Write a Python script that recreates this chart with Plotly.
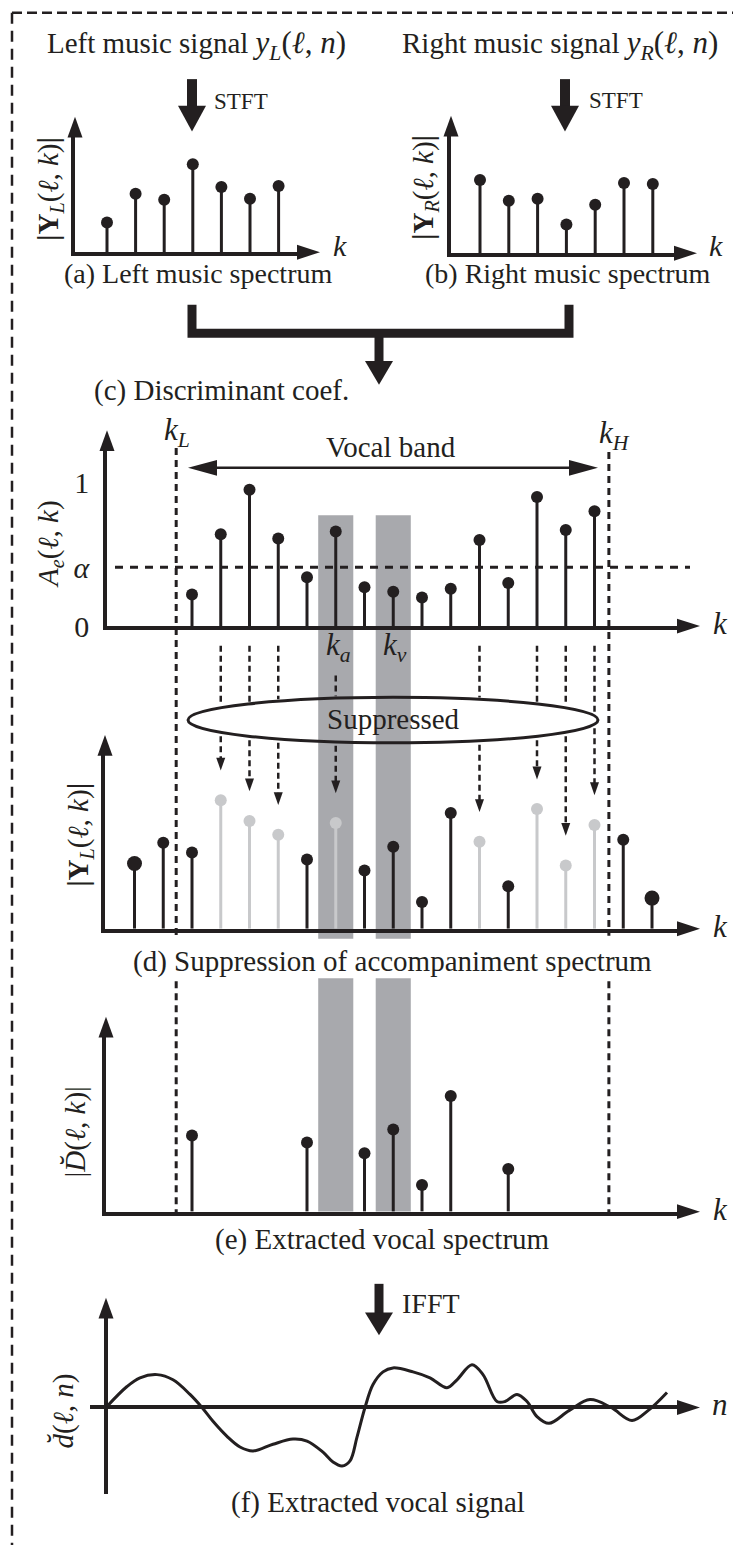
import math
import plotly.graph_objects as go

W, H = 733, 1557
SERIF = "Liberation Serif"
BLACK = "#231f20"
GRAY_BAND = "#a8a9ad"
GRAY_STEM = "#c8c9cb"

# ---------------- data ----------------
# (a), (b) short-time magnitude spectra of the two channels
k_short = [1, 2, 3, 4, 5, 6, 7]
mag_left_short = [0.30, 0.59, 0.53, 0.89, 0.66, 0.54, 0.67]
mag_right_short = [0.74, 0.53, 0.55, 0.29, 0.49, 0.71, 0.70]

# (c) discriminant coefficient A_e(l, k) inside the vocal band
k_band = list(range(1, 16))
coef = [0.22, 0.64, 0.95, 0.61, 0.34, 0.66, 0.27, 0.24, 0.20, 0.26,
        0.60, 0.30, 0.90, 0.67, 0.80]
alpha = 0.41
k_low, k_high = 0.45, 15.5
k_acc, k_voc = 6, 8

# (d) left-channel magnitude over the whole frequency range
k_full = list(range(-1, 18))
mag_left_full = [0.66, 0.87, 0.77, 1.30, 1.09, 0.95, 0.70, 1.07, 0.59, 0.83,
                 0.27, 1.17, 0.88, 0.43, 1.21, 0.64, 1.05, 0.90, 0.31]

# (f) extracted vocal waveform
n_samples = [0, 21, 34, 51, 67, 84, 96, 107, 121, 134, 147, 167, 187, 201,
             217, 227, 236, 244, 251, 259, 267, 277, 287, 307, 324, 341, 351,
             366, 377, 391, 399, 411, 421, 431, 443, 463, 484, 505, 526, 542, 561]
d_vocal = [0, 0.53, 0.75, 0.83, 0.70, 0.33, 0, -0.35, -0.73, -1.0, -1.1,
           -0.93, -0.8, -0.85, -1.13, -1.38, -1.48, -1.35, -0.75, 0, 0.58,
           0.9, 1.0, 0.9, 0.75, 0.5, 0.7, 1.08, 0.83, 0.15, 0.15, 0.33,
           0.15, -0.23, -0.4, -0.08, 0.2, 0, -0.33, -0.08, 0.38]

# ---------------- panel geometry (pixels) ----------------
GEOM = {
    1: dict(x0=75, x1=299, tipx=320, ax=75, kref=1, pxref=107, pitch=28.6,
            yb=255, yt=137, tipy=118, yz=255, scale=100),
    2: dict(x0=451, x1=676, tipx=697, ax=451, kref=1, pxref=480, pitch=28.8,
            yb=256, yt=136, tipy=117, yz=256, scale=100),
    3: dict(x0=107, x1=679, tipx=700, ax=107, kref=1, pxref=192, pitch=28.75,
            yb=633, yt=454, tipy=435, yz=633, scale=145),
    4: dict(x0=105, x1=679, tipx=700, ax=105, kref=1, pxref=192, pitch=28.75,
            yb=939, yt=762, tipy=743, yz=939, scale=100),
    5: dict(x0=106, x1=679, tipx=700, ax=106, kref=1, pxref=192, pitch=28.75,
            yb=1225, yt=1047, tipy=1028, yz=1225, scale=100),
    6: dict(x0=90, x1=679, tipx=700, ax=106, kref=0, pxref=106, pitch=1,
            yb=1510, yt=1331, tipy=1312, yz=1423, scale=40),
}


def fx(px):
    return px / W


def fy(py):
    return 1 - py / H


def sfx(i):
    return "" if i == 1 else str(i)


fig = go.Figure()
layout_axes = {}
for i, g in GEOM.items():
    xr = [g["kref"] + (g["x0"] - g["pxref"]) / g["pitch"],
          g["kref"] + (g["x1"] - g["pxref"]) / g["pitch"]]
    yr = [(g["yz"] - g["yb"]) / g["scale"], (g["yz"] - g["yt"]) / g["scale"]]
    common = dict(showgrid=False, showticklabels=False, ticks="", fixedrange=True,
                  linewidth=3.5, linecolor=BLACK, zerolinewidth=3.5, zerolinecolor=BLACK)
    layout_axes["xaxis" + sfx(i)] = dict(
        domain=[fx(g["x0"]), fx(g["x1"])], range=xr, anchor="y" + sfx(i),
        showline=i < 6, zeroline=i == 6, **common)
    layout_axes["yaxis" + sfx(i)] = dict(
        domain=[fy(g["yb"]), fy(g["yt"])], range=yr, anchor="x" + sfx(i),
        showline=i < 6, zeroline=i == 6, **common)

# tick labels 0, alpha, 1 on the discriminant axis
layout_axes["yaxis3"].update(
    showticklabels=True, tickvals=[0, alpha, 1],
    ticktext=["0", "<i>α</i>", "1"], ticklabelstandoff=8,
    tickfont=dict(family=SERIF, size=30, color=BLACK))


def add_stems(ks, vs, panel, color, size=12, width=3):
    xs, ys = [], []
    for k, v in zip(ks, vs):
        xs += [k, k, None]
        ys += [0, v, None]
    ax = dict(xaxis="x" + sfx(panel), yaxis="y" + sfx(panel))
    fig.add_trace(go.Scatter(x=xs, y=ys, mode="lines", cliponaxis=False,
                             line=dict(color=color, width=width),
                             hoverinfo="skip", showlegend=False, **ax))
    fig.add_trace(go.Scatter(x=ks, y=vs, mode="markers", cliponaxis=False,
                             marker=dict(color=color, size=size, line=dict(width=0)),
                             hoverinfo="skip", showlegend=False, **ax))


# (a), (b)
add_stems(k_short, mag_left_short, 1, BLACK)
add_stems(k_short, mag_right_short, 2, BLACK)
# (c)
add_stems(k_band, coef, 3, BLACK)

# (d): bins of the vocal band whose coefficient exceeds alpha are suppressed
coef_of = dict(zip(k_band, coef))
suppressed = [k for k in k_band if coef_of[k] >= alpha]
kept_d = [(k, m) for k, m in zip(k_full, mag_left_full) if k not in suppressed]
gray_d = [(k, m) for k, m in zip(k_full, mag_left_full) if k in suppressed]
ends = (k_full[0], k_full[-1])
add_stems([k for k, _ in gray_d], [m for _, m in gray_d], 4, GRAY_STEM)
add_stems([k for k, _ in kept_d if k not in ends], [m for k, m in kept_d if k not in ends], 4, BLACK)
add_stems([k for k, _ in kept_d if k in ends], [m for k, m in kept_d if k in ends], 4, BLACK, size=15)

# (e): remaining vocal-band bins
vocal = [(k, m) for k, m in zip(k_full, mag_left_full)
         if k in coef_of and coef_of[k] < alpha]
add_stems([k for k, _ in vocal], [m for _, m in vocal], 5, BLACK)

# (f)
fig.add_trace(go.Scatter(x=n_samples, y=d_vocal, mode="lines", cliponaxis=False,
                         line=dict(color=BLACK, width=3, shape="spline", smoothing=1.0),
                         xaxis="x6", yaxis="y6", hoverinfo="skip", showlegend=False))

# ---------------- decorations ----------------
shapes = []
annotations = []


def path_px(points, close=True):
    s = "M " + " L ".join(f"{fx(x):.5f},{fy(y):.5f}" for x, y in points)
    return s + (" Z" if close else "")


def tri(points, color=BLACK):
    shapes.append(dict(type="path", xref="paper", yref="paper", path=path_px(points),
                       fillcolor=color, line=dict(width=0)))


def line_px(x0, y0, x1, y1, width=3, dash=None, color=BLACK):
    ln = dict(color=color, width=width)
    if dash:
        ln["dash"] = dash
    shapes.append(dict(type="line", xref="paper", yref="paper",
                       x0=fx(x0), y0=fy(y0), x1=fx(x1), y1=fy(y1), line=ln))


def text(px, py, s, size=28, angle=0, color=BLACK):
    annotations.append(dict(xref="paper", yref="paper", x=fx(px), y=fy(py), text=s,
                            showarrow=False, xanchor="center", yanchor="middle",
                            textangle=angle, font=dict(family=SERIF, size=size, color=color)))


# outer dashed frame
line_px(12, 13, W + 5, 13, width=2.5, dash="10px,5px")
line_px(12, 13, 12, H + 5, width=2.5, dash="11px,7px")


def kx(k):
    g = GEOM[3]
    return g["pxref"] + (k - g["kref"]) * g["pitch"]


# shaded bins k_a and k_v
for kc in (k_acc, k_voc):
    for ytop, ybot in ((521, 949), (989, 1225)):
        shapes.append(dict(type="rect", xref="x3", yref="paper", layer="below",
                           x0=kc - 0.61, x1=kc + 0.61, y0=fy(ybot), y1=fy(ytop),
                           fillcolor=GRAY_BAND, line=dict(width=0)))

# axis arrowheads
for i, g in GEOM.items():
    yz, ax = g["yz"], g["ax"]
    tri([(g["tipx"], yz), (g["x1"] - 2, yz - 7.5), (g["x1"] - 2, yz + 7.5)])
    tri([(ax, g["tipy"]), (ax - 7.5, g["yt"] + 2), (ax + 7.5, g["yt"] + 2)])

# k_L and k_H boundaries
for kb, ytop in ((k_low, 453), (k_high, 457)):
    for y0, y1 in ((ytop, 946), (992, 1228)):
        shapes.append(dict(type="line", xref="x3", yref="paper", x0=kb, x1=kb,
                           y0=fy(y0), y1=fy(y1),
                           line=dict(color=BLACK, width=3, dash="7px,5px")))

# alpha threshold
shapes.append(dict(type="line", xref="paper", yref="y3", x0=fx(115), x1=fx(690),
                   y0=alpha, y1=alpha, line=dict(color=BLACK, width=3, dash="8px,7px")))

# vocal band double arrow
line_px(205, 473, 582, 473, width=2.5)
tri([(188, 473), (217, 465), (217, 481)])
tri([(598, 473), (569, 465), (569, 481)])

# "Suppressed" ellipse (outline only; dashed arrows pass around it)
EX0, EX1, EY0, EY1 = 188, 598, 705, 751
ecx, ecy = (EX0 + EX1) / 2, (EY0 + EY1) / 2
ea, eb = (EX1 - EX0) / 2, (EY1 - EY0) / 2

gd = GEOM[4]
for k in suppressed:
    m = mag_left_full[k_full.index(k)]
    y_tip = gd["yb"] - (m + 0.3) * gd["scale"]
    y_start = 683 if k == k_acc else 653
    xk = kx(k)
    u = (xk - ecx) / ea
    if abs(u) < 1:
        half = eb * math.sqrt(1 - u * u)
        line_px(xk, y_start, xk, ecy - half - 2, width=2.5, dash="6px,4px")
        line_px(xk, ecy + half + 4, xk, y_tip - 10, width=2.5, dash="6px,4px")
    else:
        line_px(xk, y_start, xk, y_tip - 10, width=2.5, dash="6px,4px")
    tri([(xk, y_tip), (xk - 4.5, y_tip - 13), (xk + 4.5, y_tip - 13)])

shapes.append(dict(type="circle", xref="paper", yref="paper",
                   x0=fx(EX0), x1=fx(EX1), y0=fy(EY1), y1=fy(EY0),
                   line=dict(color=BLACK, width=3)))


# big block arrows
def block_arrow(x, y_top, y_head, y_tip, stem=10, head=28):
    line_px(x, y_top, x, y_head + 1, width=stem)
    tri([(x - head / 2, y_head), (x + head / 2, y_head), (x, y_tip)])


block_arrow(192, 80, 107, 133)
block_arrow(565, 80, 107, 133)
block_arrow(379, 337, 365, 389, stem=9)
block_arrow(379, 1298, 1327, 1350, stem=9)

# bracket joining the two spectra
shapes.append(dict(type="path", xref="paper", yref="paper",
                   path=path_px([(192, 308), (192, 337), (569, 337), (569, 308)], close=False),
                   line=dict(color=BLACK, width=9)))

# ---------------- texts ----------------
MATH = '<span style="font-size:31px">'
text(196, 46, "Left music signal " + MATH + "<i>y<sub>L</sub></i>(<i>ℓ</i>, <i>n</i>)</span>", size=29)
text(560, 46, "Right music signal " + MATH + "<i>y<sub>R</sub></i>(<i>ℓ</i>, <i>n</i>)</span>", size=29)
text(241, 103, "STFT", size=23)
text(616, 102, "STFT", size=23)
text(50, 191, "<b>|Y</b><sub><i>L</i></sub>(<i>ℓ</i>, <i>k</i>)<b>|</b>", size=29, angle=-90)
text(425, 190, "<b>|Y</b><sub><i>R</i></sub>(<i>ℓ</i>, <i>k</i>)<b>|</b>", size=29, angle=-90)
text(340, 248, "<i>k</i>", size=30)
text(716, 248, "<i>k</i>", size=30)
text(198, 277, "(a) Left music spectrum", size=28)
text(568, 277, "(b) Right music spectrum", size=28)
text(221, 395, "(c) Discriminant coef.", size=29)
text(177, 437, "<i>k<sub>L</sub></i>", size=31)
text(614, 440, "<i>k<sub>H</sub></i>", size=31)
text(391, 452, "Vocal band", size=29)
text(50, 550, "<i>A<sub>e</sub></i>(<i>ℓ</i>, <i>k</i>)", size=29, angle=-90)
text(720, 630, "<i>k</i>", size=31)
text(kx(k_acc) + 3, 654, "<i>k<sub>a</sub></i>", size=31)
text(kx(k_voc) + 2, 654, "<i>k<sub>v</sub></i>", size=31)
text(393, 727, "Suppressed", size=29)
text(80, 844, "<b>|Y</b><sub><i>L</i></sub>(<i>ℓ</i>, <i>k</i>)<b>|</b>", size=29, angle=-90)
text(720, 937, "<i>k</i>", size=31)
text(392, 972, "(d) Suppression of accompaniment spectrum", size=29)
text(75, 1145, "|<i>D̆</i>(<i>ℓ</i>, <i>k</i>)|", size=29, angle=-90)
text(720, 1223, "<i>k</i>", size=31)
text(382, 1253, "(e) Extracted vocal spectrum", size=29)
text(431, 1318, "IFFT", size=28)
text(63, 1427, "<i>d̆</i>(<i>ℓ</i>, <i>n</i>)", size=29, angle=-90)
text(720, 1420, "<i>n</i>", size=31)
text(378, 1519, "(f) Extracted vocal signal", size=29)

fig.update_layout(
    width=W, height=H, margin=dict(l=0, r=0, t=0, b=0),
    paper_bgcolor="white", plot_bgcolor="rgba(0,0,0,0)",
    showlegend=False, shapes=shapes, annotations=annotations, **layout_axes,
)

fig.write_html("out.html", config={"displayModeBar": False})
